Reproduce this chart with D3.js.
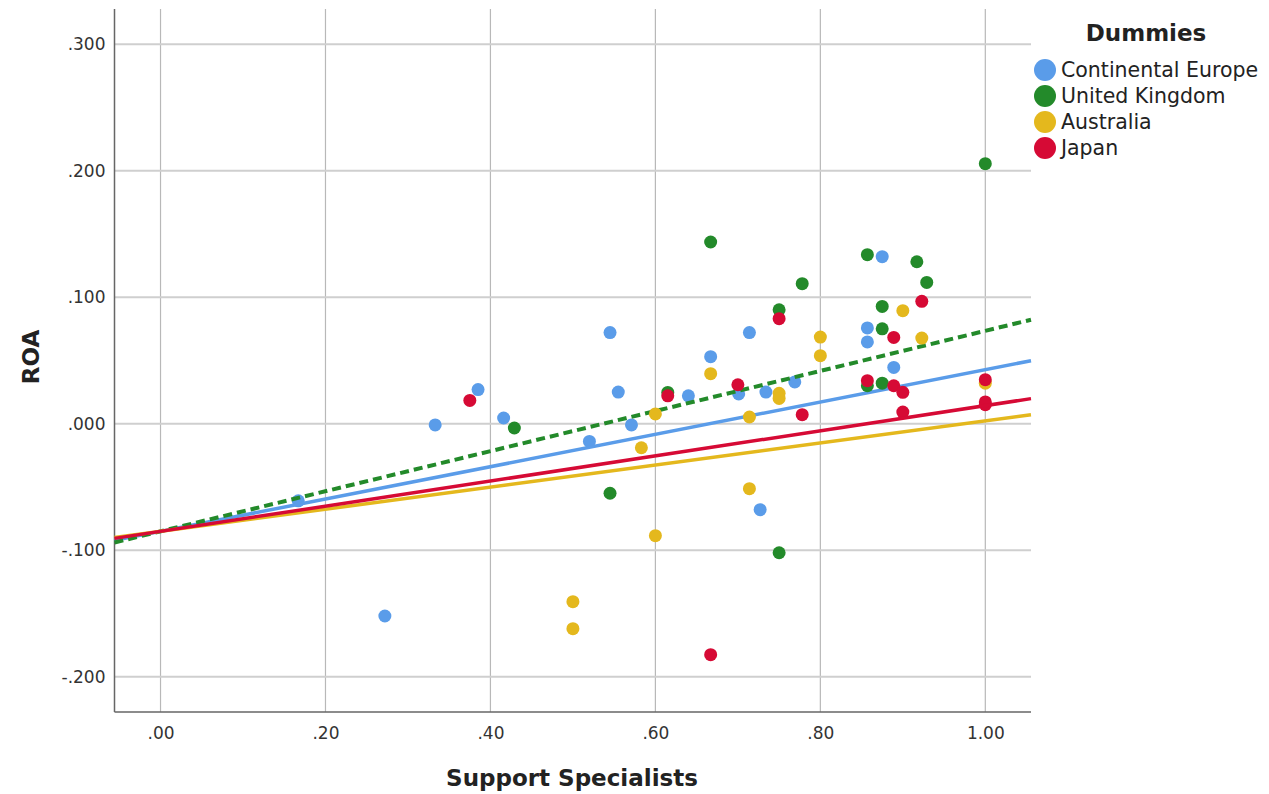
<!DOCTYPE html>
<html>
<head>
    <title>ROA vs Support Specialists</title>
    <script src="https://cdn.jsdelivr.net/npm/d3@7"></script>
    <style>
        body { margin: 0; background: #fff; }
        text { font-family: "DejaVu Sans", sans-serif; }
    </style>
</head>
<body>
    <svg width="1269" height="794" id="mainsvg"></svg>
    <script>
        const svg = d3.select('svg');

        // data: [Support Specialists, ROA]
        const groups = ['Continental Europe', 'United Kingdom', 'Australia', 'Japan'];
        const groupColors = ['#5a9ce9', '#238a2a', '#e4b81d', '#d60a35'];

        const europe = [[0.167, -0.061], [0.272, -0.152], [0.333, -0.001], [0.385, 0.027], [0.416, 0.0045],
            [0.520, -0.014], [0.545, 0.072], [0.555, 0.025], [0.571, -0.001], [0.640, 0.022],
            [0.667, 0.053], [0.701, 0.0235], [0.714, 0.072], [0.734, 0.025], [0.727, -0.068],
            [0.769, 0.033], [0.857, 0.0757], [0.857, 0.0646], [0.875, 0.132], [0.889, 0.0445]];
        const uk = [[1.0, 0.2055], [0.667, 0.1436], [0.857, 0.1336], [0.917, 0.128], [0.929, 0.1117],
            [0.778, 0.1107], [0.75, 0.090], [0.875, 0.0927], [0.875, 0.075], [0.857, 0.030],
            [0.875, 0.032], [0.615, 0.0247], [0.429, -0.0034], [0.545, -0.055], [0.75, -0.102]];
        const australia = [[0.900, 0.0893], [0.923, 0.0677], [0.800, 0.0685], [0.800, 0.0538], [0.667, 0.0395],
            [0.75, 0.024], [0.75, 0.020], [0.714, 0.0053], [0.600, 0.0077], [0.583, -0.019],
            [0.714, -0.0514], [0.600, -0.0885], [0.500, -0.1407], [0.500, -0.162], [1.0, 0.032]];
        const japan = [[0.375, 0.0184], [0.615, 0.022], [0.667, -0.1826], [0.700, 0.0308], [0.75, 0.083],
            [0.778, 0.0071], [0.923, 0.0967], [0.889, 0.0682], [0.857, 0.034], [0.889, 0.030],
            [0.900, 0.0248], [0.900, 0.0092], [1.0, 0.0348], [1.0, 0.0172], [1.0, 0.015]];
        const groupPoints = [europe, uk, australia, japan];

        // fit lines per group
        const fitIntercept = [-0.0851, -0.0851, -0.0851, -0.0851];
        const fitSlope = [0.1278, 0.1585, 0.0874, 0.0994];
        const fitDashed = [false, true, false, false];

        const xTicks = [0, 0.2, 0.4, 0.6, 0.8, 1.0];
        const yTicks = [-0.2, -0.1, 0, 0.1, 0.2, 0.3];

        const pLeft = 114.5, pRight = 1031, pTop = 9, pBottom = 712;
        const xDomain = [-0.0558, 1.0554];
        const x = d3.scaleLinear().domain(xDomain).range([pLeft, pRight]);
        const y = d3.scaleLinear().domain([-0.2279, 0.3278]).range([pBottom, pTop]);

        // ".20", "1.00", "-.200"
        const fmt = (d, p) => {
            let s = d3.format('.' + p + 'f')(d);
            return s.replace('−', '-').replace(/^(-?)0\./, '$1.');
        };

        // grid
        svg.selectAll('.vgrid').data(xTicks).join('line').attr('class', 'vgrid')
            .attr('x1', x).attr('x2', x).attr('y1', pTop).attr('y2', pBottom)
            .attr('stroke', '#b8b8b8').attr('stroke-width', 1.2);
        svg.selectAll('.hgrid').data(yTicks).join('line').attr('class', 'hgrid')
            .attr('x1', pLeft).attr('x2', pRight).attr('y1', y).attr('y2', y)
            .attr('stroke', '#cfcfcf').attr('stroke-width', 2);

        // axes
        const xAxis = svg.append('g').attr('transform', `translate(0,${pBottom})`)
            .call(d3.axisBottom(x).tickValues(xTicks).tickSize(0).tickPadding(15).tickFormat(d => fmt(d, 2)));
        const yAxis = svg.append('g').attr('transform', `translate(${pLeft},0)`)
            .call(d3.axisLeft(y).tickValues(yTicks).tickSize(0).tickPadding(9).tickFormat(d => fmt(d, 3)));
        [xAxis, yAxis].forEach(g => {
            g.select('.domain').remove();
            g.selectAll('text').attr('font-size', 17).attr('fill', '#333')
                .attr('font-family', '"DejaVu Sans", sans-serif');
        });
        svg.append('line').attr('x1', pLeft).attr('x2', pRight).attr('y1', pBottom).attr('y2', pBottom)
            .attr('stroke', '#666').attr('stroke-width', 1.5);
        svg.append('line').attr('x1', pLeft).attr('x2', pLeft).attr('y1', pTop).attr('y2', pBottom)
            .attr('stroke', '#666').attr('stroke-width', 1.5);

        // points and fit line, group by group
        const plot = svg.append('g');
        groups.forEach((g, i) => {
            plot.append('g').selectAll('circle').data(groupPoints[i]).join('circle')
                .attr('cx', d => x(d[0])).attr('cy', d => y(d[1])).attr('r', 6.5)
                .attr('fill', groupColors[i]);
            const ends = xDomain.map(v => [v, fitIntercept[i] + fitSlope[i] * v]);
            plot.append('path').datum(ends)
                .attr('d', d3.line().x(d => x(d[0])).y(d => y(d[1])))
                .attr('fill', 'none').attr('stroke', groupColors[i])
                .attr('stroke-width', fitDashed[i] ? 4 : 3.5)
                .attr('stroke-dasharray', fitDashed[i] ? '9,5' : null);
        });

        // axis titles
        svg.append('text').attr('x', 572).attr('y', 786)
            .attr('text-anchor', 'middle').attr('font-size', 23).attr('font-weight', 'bold')
            .attr('fill', '#222').text('Support Specialists');
        svg.append('text').attr('transform', 'translate(39,357) rotate(-90)')
            .attr('text-anchor', 'middle').attr('font-size', 23).attr('font-weight', 'bold')
            .attr('fill', '#222').text('ROA');

        // legend
        const legend = svg.append('g');
        legend.append('text').attr('x', 1146).attr('y', 41).attr('text-anchor', 'middle')
            .attr('font-size', 23).attr('font-weight', 'bold').attr('fill', '#222').text('Dummies');
        const items = legend.selectAll('.item').data(groups).join('g').attr('class', 'item')
            .attr('transform', (d, i) => `translate(1045,${70 + i * 26})`);
        items.append('circle').attr('r', 11).attr('fill', (d, i) => groupColors[i]);
        items.append('text').attr('x', 16).attr('dy', '0.36em').attr('font-size', 20.5)
            .attr('fill', '#222').text(d => d);
    </script>
</body>
</html>
